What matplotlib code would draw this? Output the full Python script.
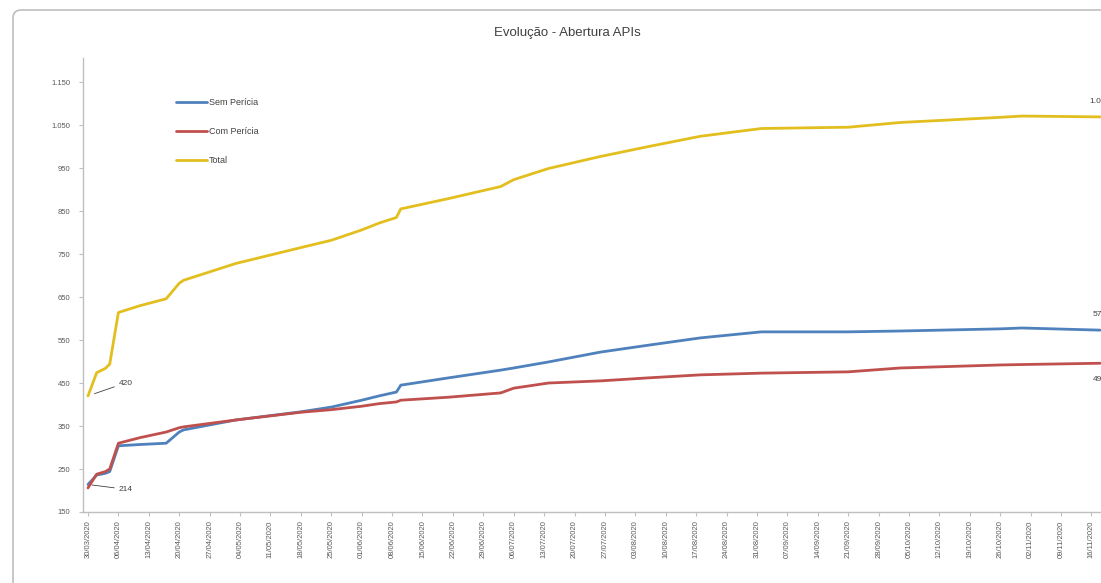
import datetime
import matplotlib
matplotlib.use("Agg")
import matplotlib.pyplot as plt
from matplotlib.patches import FancyBboxPatch

plt.rcParams['font.family'] = ['Liberation Sans', 'DejaVu Sans']

# dias desde a primeira data da serie
inicio = datetime.date(2020, 3, 30)
dias = [0, 2, 4, 5, 7, 12, 18, 21, 22, 34, 49, 56, 63, 67, 71, 72, 83, 95, 98,
        106, 118, 129, 141, 155, 175, 187, 210, 215, 233]

sem_pericia = [214, 236, 240, 244, 304, 307, 310, 336, 341, 364, 383, 394, 410,
               420, 429, 445, 462, 480, 485, 499, 522, 538, 555, 569, 569, 571,
               576, 578, 573]
com_pericia = [206, 238, 244, 250, 310, 323, 336, 346, 348, 364, 382, 388, 396,
               402, 406, 410, 417, 427, 438, 450, 455, 462, 469, 473, 476, 485,
               492, 493, 496]
total = [420, 474, 484, 494, 614, 630, 646, 682, 689, 728, 765, 782, 806,
         822, 835, 855, 879, 907, 923, 949, 977, 1000, 1024, 1042, 1045, 1056,
         1068, 1071, 1069]

series = [("Sem Perícia", sem_pericia, '#4F81BD'),
          ("Com Perícia", com_pericia, '#C0504D'),
          ("Total", total, '#E2BF1E')]

yticks = list(range(150, 1151, 100))
n_rotulos = 34


def fmt(v):
    return "{:,}".format(v).replace(",", ".")


W, H = 1101, 583
fig = plt.figure(figsize=(W / 100, H / 100), dpi=100)
ax = fig.add_axes([83 / W, 1 - 512 / H, (W - 83) / W, (512 - 58) / H])

for nome, vals, cor in series:
    ax.plot(dias, vals, color=cor, lw=2.0, label=nome, solid_capstyle='round')

ax.set_xlim(-1.15, 233.2)
ax.set_ylim(150, 1206)
ax.set_yticks(yticks)
ax.set_yticklabels([fmt(v) for v in yticks])

xt = [7 * k for k in range(n_rotulos)]
ax.set_xticks(xt)
ax.set_xticklabels([(inicio + datetime.timedelta(days=d)).strftime("%d/%m/%Y")
                    for d in xt], rotation=90, va='top', ha='center')

for s in ['top', 'right']:
    ax.spines[s].set_visible(False)
for s in ['left', 'bottom']:
    ax.spines[s].set_color('#BFBFBF')
    ax.spines[s].set_linewidth(1.0)
ax.tick_params(axis='both', colors='#BFBFBF', labelcolor='#595959',
               labelsize=5.5, length=3, width=0.8)
ax.tick_params(axis='y', pad=6)
ax.tick_params(axis='x', pad=3)

# rotulos do primeiro ponto
ax.annotate(fmt(total[0]), xy=(dias[0], total[0]), xytext=(7, 450),
            fontsize=6, color='#404040', ha='left', va='center',
            arrowprops=dict(arrowstyle='-', color='#404040', lw=0.6,
                            shrinkA=1, shrinkB=5))
ax.annotate(fmt(sem_pericia[0]), xy=(dias[0], sem_pericia[0]), xytext=(7, 203),
            fontsize=6, color='#404040', ha='left', va='center',
            arrowprops=dict(arrowstyle='-', color='#404040', lw=0.6,
                            shrinkA=1, shrinkB=3))

# rotulos do ultimo ponto
for vals, dy in [(total, 11), (sem_pericia, 11), (com_pericia, -12)]:
    ax.annotate(fmt(vals[-1]), xy=(dias[-1], vals[-1]), xytext=(0, dy),
                textcoords='offset points', ha='center', va='center',
                fontsize=6, color='#404040', annotation_clip=False)

fig.legend(loc='upper left', bbox_to_anchor=(168 / W, 1 - 90 / H),
           frameon=False, fontsize=6.5, handlelength=3.4, handletextpad=0.2,
           labelspacing=2.2, labelcolor='#404040')

fig.text(567 / W, 1 - 33 / H, "Evolução - Abertura APIs", ha='center',
         va='center', fontsize=9.5, color='#404040')

borda = FancyBboxPatch((13, -20), 1120, 593, boxstyle="round,pad=0,rounding_size=8",
                       transform=None, facecolor='none', edgecolor='#BFBFBF',
                       lw=1.2)
fig.add_artist(borda)

fig.savefig("out.png", dpi=100)
